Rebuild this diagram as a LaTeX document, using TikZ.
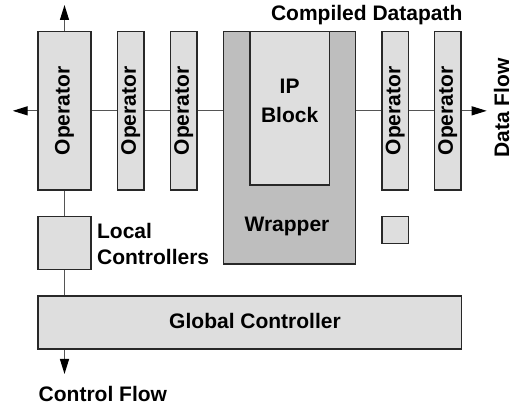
\documentclass[tikz,border=0pt]{standalone}
\usepackage{fontspec}
\setmainfont{Liberation Sans}
\usetikzlibrary{arrows.meta}
\pgfdeclarelayer{wires}
\pgfsetlayers{wires,main}
\definecolor{boxfill}{RGB}{222,222,222}
\definecolor{wrapfill}{RGB}{190,190,190}
\definecolor{wire}{RGB}{85,85,85}
\definecolor{edge}{RGB}{40,40,40}
\tikzset{
  lbl/.style={font=\fontsize{10.5}{13.3}\selectfont\bfseries, text=black},
  block/.style={draw=edge, line width=0.6pt, fill=boxfill, inner sep=0pt, outer sep=0pt},
  opbox/.style={block, minimum width=#1, minimum height=79.15pt,
    label={[lbl, rotate=90]center:Operator}},
  wire/.style={draw=wire, line width=0.6pt},
  flow/.style={wire, -{Triangle[length=7.5pt, width=4.5pt, color=black]}}
}
\begin{document}
\begin{tikzpicture}[x=0.5pt, y=-0.5pt]
\path[use as bounding box] (0,0) rectangle (520,410);

% datapath operators and the wrapped IP block
\node[opbox=26.5pt] (op1) at (64.5,110.85) {};
\node[opbox=13.3pt] (op2) at (130.7,110.85) {};
\node[opbox=13.3pt] (op3) at (183.7,110.85) {};
\node[block, fill=wrapfill, minimum width=66.2pt, minimum height=116.15pt] (wrap) at (289.5,147.85) {};
\node[lbl] (wraptext) at (287,226.7) {Wrapper};
\node[block, minimum width=39.65pt, minimum height=76.65pt] (ip) at (289.65,108.35) {};
\node[lbl, align=center] (iptext) at (289.6,101) {IP\\[0.85pt]Block};
\node[opbox=13.15pt] (op4) at (395.2,110.85) {};
\node[opbox=13.15pt] (op5) at (447.8,110.85) {};

% controllers
\node[block, minimum width=26.5pt, minimum height=26.3pt] (local) at (64.5,243) {};
\node[block, minimum width=13.3pt, minimum height=13.3pt] (small) at (395.3,230) {};
\node[block, minimum width=211.85pt, minimum height=26.5pt] (global) at (249.85,322.5) {};
\node[lbl] (globaltext) at (255,320.7) {Global Controller};

% free ends of the flow arrows
\coordinate (leftend) at (12.7,110.85);
\coordinate (topend) at (64.5,5);
\coordinate (rightend) at (486.7,110.85);
\coordinate (downend) at (64.5,374);

\begin{pgfonlayer}{wires}
% data flow
\draw[flow] (op1.west) -- (leftend);
\draw[flow] (op1.north) -- (topend);
\draw[wire] (op1.east) -- (op2.west);
\draw[wire] (op2.east) -- (op3.west);
\draw[wire] (op3.east) -- (op3.east -| wrap.west);
\draw[wire] (op4.west -| wrap.east) -- (op4.west);
\draw[wire] (op4.east) -- (op5.west);
\draw[flow] (op5.east) -- (rightend);

% control flow
\draw[wire] (op1.south) -- (local.north);
\draw[wire] (local.south) -- (local.south |- global.north);
\draw[flow] (local.south |- global.south) -- (downend);
\end{pgfonlayer}

% captions
\node[lbl] (cdp) at (366.7,15) {Compiled Datapath};
\node[lbl, rotate=90] (dflow) at (501.7,108) {Data Flow};
\node[lbl, anchor=west, inner sep=0pt] (cflow) at (38.3,394) {Control Flow};
\node[lbl, anchor=west, align=left, inner sep=0pt] (loctext) at (96.7,244) {Local\\Controllers};
\end{tikzpicture}
\end{document}
